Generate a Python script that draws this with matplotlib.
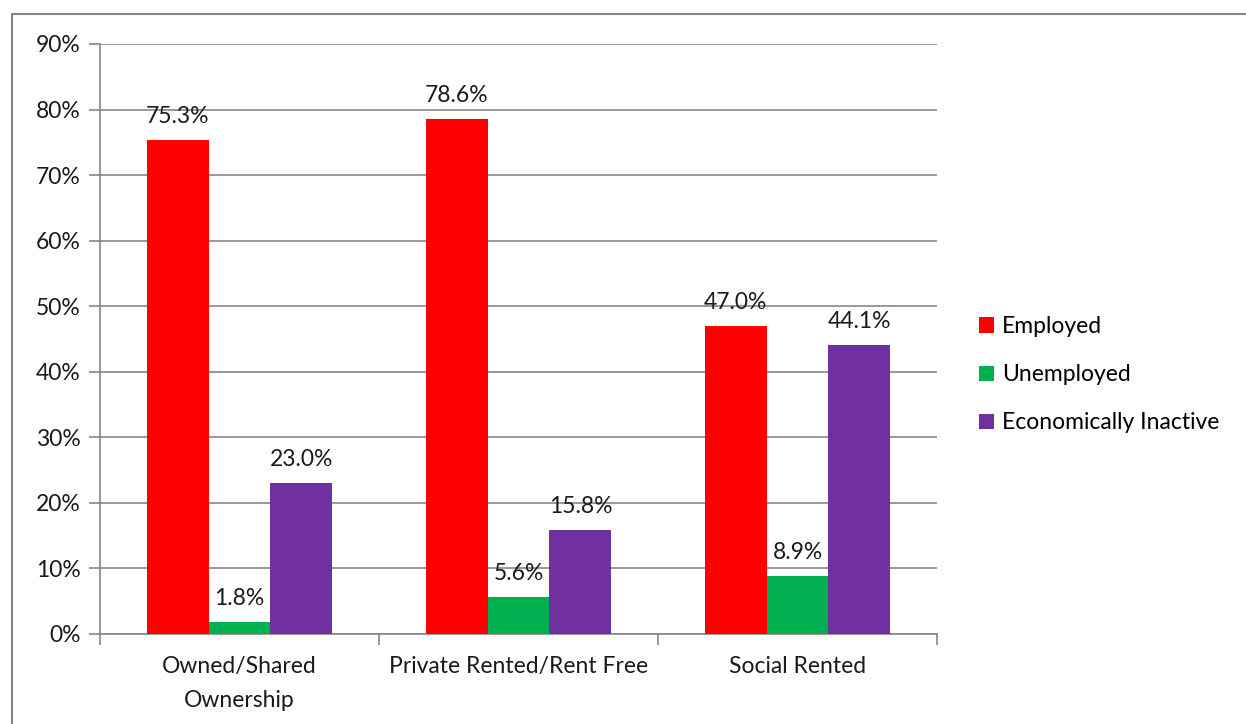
import matplotlib
matplotlib.use("Agg")
import matplotlib.pyplot as plt
from matplotlib.patches import Rectangle, Patch
import numpy as np

plt.rcParams['font.family'] = ['Lato', 'DejaVu Sans']

categories = ["Owned/Shared\nOwnership", "Private Rented/Rent Free", "Social Rented"]
series_names = ["Employed", "Unemployed", "Economically Inactive"]
employed = [75.3, 78.6, 47.0]
unemployed = [1.8, 5.6, 8.9]
inactive = [23.0, 15.8, 44.1]
colors = ["#FF0000", "#00B050", "#7030A0"]
yticks = [0, 10, 20, 30, 40, 50, 60, 70, 80, 90]

W, H = 1246, 724
fig = plt.figure(figsize=(W / 100, H / 100), dpi=100)
ax = fig.add_axes([100 / W, 1 - 634 / H, (937 - 100) / W, (634 - 44) / H])

# frame around chart
fig.patches.append(Rectangle((12 / W, -0.1), 1.2, 1 - 14 / H + 0.1, transform=fig.transFigure,
                             fill=False, edgecolor="#868686", linewidth=1.5))

fs = 16.5
x = np.arange(len(categories))
bw = 0.222
grey = "#868686"
for i, (vals, c, name) in enumerate(zip([employed, unemployed, inactive], colors, series_names)):
    pos = x + (i - 1) * bw
    ax.bar(pos, vals, width=bw, color=c, zorder=3, label=name)
    for p, v in zip(pos, vals):
        ax.text(p, v + 2.0, f"{v:.1f}%", ha="center", va="bottom", fontsize=fs, color="#1a1a1a", zorder=4)

ax.set_xlim(-0.5, 2.5)
ax.set_ylim(0, 90)
ax.set_yticks(yticks)
ax.set_yticklabels([f"{t}%" for t in yticks], fontsize=fs, color="#1a1a1a")
ax.yaxis.grid(True, color=grey, linewidth=1.2, zorder=0)
ax.set_xticks(x)
ax.set_xticklabels(categories, fontsize=fs, color="#1a1a1a", linespacing=1.75)
ax.tick_params(axis="x", length=0, pad=16)
ax.set_xticks([-0.5, 0.5, 1.5, 2.5], minor=True)
ax.tick_params(axis="x", which="minor", length=8, color=grey, width=1.2)
ax.tick_params(axis="y", length=8, color=grey, width=1.2, pad=6)
for s in ["top", "right"]:
    ax.spines[s].set_visible(False)
for s in ["left", "bottom"]:
    ax.spines[s].set_color(grey)
    ax.spines[s].set_linewidth(1.2)

handles = [Patch(facecolor=c, label=n) for c, n in zip(colors, series_names)]
leg = fig.legend(handles=handles, loc="upper left", bbox_to_anchor=(970 / W, 1 - 307 / H),
                 frameon=False, fontsize=fs, handlelength=0.65, handleheight=0.65,
                 handletextpad=0.35, labelspacing=1.18, borderaxespad=0)

fig.savefig("out.png", dpi=100)
